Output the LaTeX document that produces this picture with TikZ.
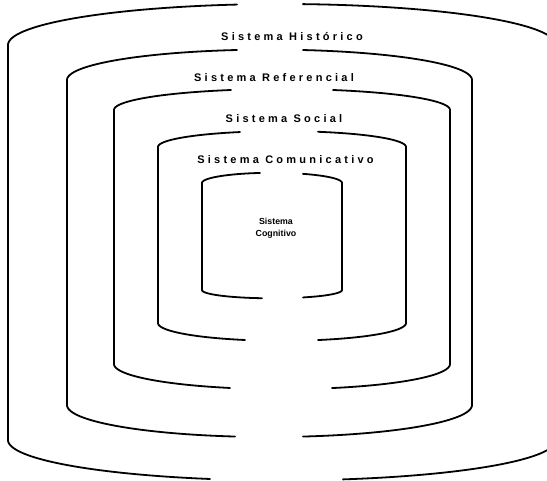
\documentclass[tikz,border=0pt]{standalone}
\usepackage{fontspec}
\setmainfont{Liberation Sans}
\newfontfamily\lblfont[LetterSpace=29.5]{Liberation Sans}
% cx, a, yTop-corner, bTop, gapTop, yBottom-corner, bBottom, gapBottom
\newcommand\cylleft[8]{%
  \pgfmathsetmacro\cylTa{acos((#5-#1)/#2)}%
  \pgfmathsetmacro\cylTb{acos((#8-#1)/#2)}%
  \draw[sysline] plot[domain=\cylTa:180,samples=90] ({#1+#2*cos(\x)},{#3-#4*sin(\x)})
    -- plot[domain=180:\cylTb,samples=90] ({#1+#2*cos(\x)},{#6+#7*sin(\x)});}
\newcommand\cylright[8]{%
  \pgfmathsetmacro\cylTc{acos((#5-#1)/#2)}%
  \pgfmathsetmacro\cylTd{acos((#8-#1)/#2)}%
  \draw[sysline] plot[domain=\cylTc:0,samples=90] ({#1+#2*cos(\x)},{#3-#4*sin(\x)})
    -- plot[domain=0:\cylTd,samples=90] ({#1+#2*cos(\x)},{#6+#7*sin(\x)});}
\tikzset{
  sysline/.style={line width=1.8pt, line cap=round, line join=round},
  lbl/.style={font=\lblfont\bfseries\fontsize{11}{13}\selectfont, inner sep=0pt},
  cog/.style={font=\bfseries\fontsize{8.8}{12.5}\selectfont, align=center, inner sep=0pt}
}
\begin{document}
\begin{tikzpicture}[x=1pt,y=-1pt]
\useasboundingbox (0,0) rectangle (547,480);
\fill[white] (0,0) rectangle (547,480);
\clip (0,0) rectangle (547,480);
% Sistema Historico
\cylleft{282}{274}{45}{41}{237}{440}{40.4}{210}
\cylright{282}{274}{45}{41}{303}{440}{40.4}{343}
% Sistema Referencial
\cylleft{269.5}{202.5}{80}{30.4}{237}{405}{32}{235}
\cylright{269.5}{202.5}{80}{30.4}{303}{405}{32}{303}
% Sistema Social
\cylleft{282}{168}{110}{21}{231}{364}{25.2}{230}
\cylright{282}{168}{110}{21}{333}{364}{25.2}{332}
% Sistema Comunicativo
\cylleft{282}{124}{147}{15.9}{240}{323}{17.8}{245}
\cylright{282}{124}{147}{15.9}{318}{323}{17.8}{318}
% Sistema Cognitivo
\cylleft{272}{70}{183}{10.2}{260}{290}{8.3}{262}
\cylright{272}{70}{183}{10.2}{303}{290}{8.3}{303}
% labels
\node[lbl] (hist) at (292,37) {Sistema Histórico};
\node[lbl] (ref) at (274,78) {Sistema Referencial};
\node[lbl] (soc) at (284,119) {Sistema Social};
\node[lbl] (com) at (285.5,160) {Sistema Comunicativo};
\node[cog] (cog) at (276,228) {Sistema\\Cognitivo};
\end{tikzpicture}
\end{document}
